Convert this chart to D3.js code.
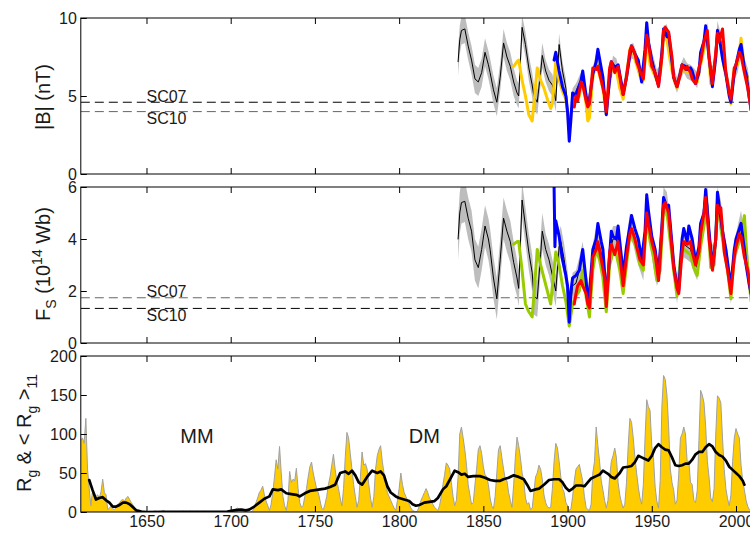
<!DOCTYPE html>
<html><head><meta charset="utf-8">
<script src="https://cdn.jsdelivr.net/npm/d3@7"></script>
<style>
body{margin:0;background:#fff;}
svg{display:block;font-family:"Liberation Sans",Arial,Helvetica,sans-serif;}
</style></head><body>
<svg id="chart" width="750" height="536"></svg>
<script>
// ---------------- DATA ----------------
const xTicks = [1650,1700,1750,1800,1850,1900,1950,2000];
const bTicks = [0,5,10];
const fTicks = [0,2,4,6];
const rTicks = [0,50,100,150,200];
const scB = {SC07:4.6, SC10:4.0};
const scF = {SC07:1.74, SC10:1.33};

// |B| reconstruction (black, with uncertainty): [year, value, halfwidth]
const bBlack = [
[1835,7.2,0.9],[1836,8.6,0.9],[1837,9.2,0.9],[1839,9.3,0.9],[1841,8.2,0.9],[1843,7.3,0.9],[1845,6.1,0.9],[1847,5.9,0.9],
[1849,6.5,0.9],[1851,7.8,0.9],[1853,7.0,0.9],[1854,6.5,0.9],[1856,5.4,0.9],[1858,4.6,0.9],[1860,6.2,0.9],[1862,8.4,0.9],
[1864,7.5,0.9],[1866,6.9,0.9],[1868,5.9,0.9],[1870,5.2,0.8],[1871,5.0,0.8],[1873,9.4,0.8],[1875,8.3,0.8],[1877,6.8,0.8],
[1879,5.7,0.8],[1880,5.0,0.8],[1882,4.6,0.8],[1884,6.5,0.8],[1885,7.6,0.8],[1887,6.6,0.7],[1889,6.0,0.7],[1891,5.7,0.7],
[1893,4.7,0.7],[1895,8.3,0.7],[1897,6.6,0.6],[1899,5.5,0.6],[1901,3.0,0.6],[1903,5.0,0.5],[1905,5.3,0.5],[1907,5.8,0.5],
[1909,6.2,0.5],[1911,4.8,0.5],[1913,4.4,0.5],[1915,6.3,0.5],[1917,7.3,0.5],[1919,6.8,0.5],[1921,6.0,0.5],[1923,4.2,0.5],
[1925,5.8,0.5],[1927,7.1,0.5],[1929,6.9,0.5],[1931,6.0,0.5],[1933,5.2,0.5],[1935,6.5,0.5],[1937,7.8,0.5],[1939,7.9,0.5],
[1941,7.3,0.5],[1943,6.5,0.5],[1945,6.2,0.5],[1947,9.3,0.5],[1949,7.8,0.5],[1951,7.0,0.5],[1953,6.2,0.5],[1955,6.5,0.5],
[1957,9.0,0.5],[1959,9.1,0.5],[1961,7.5,0.5],[1963,6.3,0.5],[1965,5.7,0.5],[1967,6.5,0.5],[1969,7.0,0.5],[1971,6.6,0.5],
[1973,6.5,0.5],[1975,6.3,0.5],[1977,6.0,0.5],[1979,7.5,0.5],[1981,8.5,0.5],[1983,9.2,0.5],[1985,6.4,0.5],[1987,6.5,0.5],
[1989,9.3,0.5],[1991,8.5,0.5],[1993,7.0,0.5],[1995,6.0,0.5],[1997,4.8,0.5],[1999,6.5,0.5],[2001,7.0,0.5],[2003,8.2,0.5],
[2005,6.9,0.5],[2007,6.3,0.5],[2009,4.3,0.5]
];
const bYellow = [
[1868,6.9],[1870,7.2],[1871,7.3],[1873,6.0],[1875,5.0],[1877,3.8],[1879,3.4],[1880,4.5],[1882,6.8],[1884,6.0],[1886,5.5],
[1888,4.8],[1890,4.2],[1891,4.5],[1893,7.2],[1895,6.0],[1897,5.3],[1899,4.8],[1901,3.0],[1903,4.5],[1905,4.7],[1907,5.0],
[1909,6.2],[1911,4.5],[1912,3.4],[1913,3.6],[1915,6.2],[1917,7.2],[1919,6.3],[1921,5.5],[1923,3.8],[1925,6.3],[1927,7.0],
[1929,6.6],[1931,5.5],[1933,4.8],[1935,6.3],[1937,8.0],[1939,7.8],[1941,7.0],[1943,6.3],[1945,6.0],[1947,8.6],[1949,7.0],
[1951,6.5],[1953,6.0],[1955,6.3],[1957,8.8],[1959,8.6],[1961,7.2],[1963,6.1],[1965,5.5],[1967,6.5],[1969,6.7],[1971,6.5],
[1973,6.6],[1975,6.2],[1977,5.9],[1979,7.0],[1981,8.0],[1983,8.8],[1985,5.8],[1987,6.5],[1989,8.8],[1991,8.3],[1993,6.8],
[1995,5.9],[1997,4.5],[1999,6.8],[2001,7.0],[2003,8.7],[2005,6.8],[2007,6.0],[2009,4.2]
];
const bBlue = [
[1892,7.3],[1893,7.8],[1895,6.6],[1897,5.6],[1899,5.0],[1900,4.0],[1901,2.1],[1902,3.5],[1903,5.2],[1905,5.0],[1906,5.4],
[1908,6.0],[1909,6.6],[1911,5.0],[1912,4.4],[1913,4.8],[1915,6.4],[1917,7.2],[1918,8.0],[1920,6.8],[1921,6.2],[1923,3.8],
[1924,5.0],[1926,7.2],[1928,6.8],[1930,7.0],[1932,5.8],[1933,5.1],[1935,6.2],[1937,7.6],[1938,8.2],[1940,7.7],[1942,7.3],
[1944,5.9],[1946,8.0],[1947,9.7],[1948,8.5],[1950,7.3],[1952,6.4],[1954,5.7],[1956,7.8],[1957,9.3],[1959,8.8],[1960,9.0],
[1962,7.2],[1963,6.2],[1965,5.6],[1967,6.5],[1968,7.0],[1970,6.9],[1971,6.7],[1973,6.8],[1974,6.6],[1976,5.8],[1978,6.5],
[1979,7.8],[1981,8.5],[1982,9.5],[1984,7.5],[1986,5.6],[1988,7.5],[1989,9.2],[1990,8.8],[1992,7.4],[1994,6.4],[1996,5.0],
[1997,4.6],[1999,6.5],[2000,7.0],[2002,8.0],[2003,8.3],[2005,6.8],[2006,6.4],[2008,4.8],[2009,4.1]
];
const bRed = [
[1904,4.3],[1905,5.0],[1906,4.7],[1908,5.9],[1909,5.7],[1911,4.7],[1912,4.3],[1913,4.5],[1915,6.8],[1917,6.7],[1918,6.9],
[1920,6.0],[1922,5.0],[1923,4.0],[1925,6.8],[1926,7.2],[1928,6.5],[1930,6.9],[1932,5.6],[1933,5.1],[1935,6.2],[1937,7.9],
[1938,8.2],[1940,7.7],[1941,7.2],[1943,6.6],[1945,6.1],[1947,8.9],[1948,8.4],[1950,6.9],[1952,6.5],[1954,5.6],[1956,7.5],
[1957,9.2],[1958,9.4],[1960,9.1],[1962,7.5],[1963,6.2],[1965,5.6],[1967,6.4],[1968,7.0],[1970,6.7],[1971,6.9],[1973,6.5],
[1974,6.1],[1976,5.8],[1978,6.8],[1979,7.2],[1981,8.5],[1983,9.2],[1984,7.5],[1986,5.8],[1988,7.8],[1989,9.0],[1990,8.5],
[1992,9.3],[1994,6.5],[1996,5.2],[1997,4.8],[1999,6.8],[2000,7.0],[2002,7.8],[2003,7.6],[2005,6.5],[2007,5.5],[2009,4.1],[2010,3.9]
];

// Open solar flux F_S: [year, value, halfwidth]
const fBlack = [
[1835,4.0,0.8],[1836,5.0,0.8],[1837,5.4,0.8],[1839,5.45,0.8],[1841,4.8,0.8],[1843,4.3,0.8],[1845,3.2,0.8],[1847,2.9,0.8],
[1849,3.6,0.8],[1851,4.5,0.8],[1853,4.0,0.8],[1854,3.6,0.8],[1856,2.5,0.8],[1858,1.7,0.8],[1860,3.2,0.8],[1862,4.8,0.8],
[1864,4.3,0.8],[1866,3.9,0.8],[1868,3.1,0.8],[1870,2.5,0.7],[1871,2.1,0.7],[1873,5.5,0.7],[1875,4.5,0.7],[1877,3.5,0.7],
[1879,2.7,0.7],[1880,1.8,0.7],[1882,1.7,0.7],[1884,3.4,0.7],[1885,4.3,0.7],[1887,3.6,0.6],[1889,3.2,0.6],[1891,2.6,0.6],
[1893,2.0,0.6],[1895,3.7,0.6],[1896,3.9,0.6],[1898,3.2,0.6],[1900,2.2,0.6],[1901,1.0,0.5],[1903,2.2,0.5],[1905,2.3,0.5],
[1907,2.8,0.5],[1909,3.4,0.5],[1911,2.2,0.5],[1913,1.6,0.5],[1915,3.3,0.5],[1917,4.0,0.5],[1919,3.7,0.5],[1921,3.2,0.5],
[1923,1.7,0.5],[1925,3.5,0.5],[1927,4.0,0.5],[1929,4.0,0.5],[1931,3.4,0.5],[1933,2.4,0.5],[1935,3.5,0.5],[1937,4.5,0.5],
[1939,4.3,0.5],[1941,3.7,0.5],[1943,3.3,0.5],[1945,2.9,0.5],[1947,5.2,0.5],[1949,4.3,0.5],[1951,3.4,0.5],[1953,2.7,0.5],
[1955,3.0,0.5],[1957,5.5,0.5],[1959,5.3,0.5],[1961,4.2,0.5],[1963,3.2,0.5],[1965,2.0,0.5],[1967,3.3,0.5],[1969,3.8,0.5],
[1971,3.7,0.5],[1973,3.6,0.5],[1975,3.2,0.5],[1977,2.9,0.5],[1979,4.0,0.5],[1981,5.0,0.5],[1983,5.5,0.5],[1985,3.4,0.5],
[1987,3.2,0.5],[1989,5.5,0.5],[1991,5.0,0.5],[1993,3.8,0.5],[1995,3.0,0.5],[1997,2.0,0.5],[1999,3.4,0.5],[2001,4.0,0.5],
[2003,4.6,0.5],[2005,3.7,0.5],[2007,3.0,0.5],[2009,1.8,0.5]
];
const fGreen = [
[1868,3.8],[1870,3.9],[1871,3.9],[1873,2.8],[1875,1.5],[1877,1.2],[1879,1.0],[1880,1.8],[1882,3.6],[1884,3.0],[1886,2.5],
[1888,2.0],[1890,1.5],[1891,2.2],[1893,3.5],[1895,3.0],[1897,2.2],[1899,1.6],[1901,0.65],[1903,1.5],[1905,1.8],[1907,2.0],
[1909,2.8],[1911,1.8],[1913,1.0],[1915,2.8],[1917,3.6],[1919,3.2],[1921,2.5],[1923,1.2],[1925,3.0],[1927,3.5],[1929,3.4],
[1931,2.8],[1933,1.9],[1935,3.0],[1937,4.2],[1939,4.0],[1941,3.6],[1943,3.0],[1945,2.8],[1947,4.8],[1949,3.9],[1951,3.3],
[1953,2.4],[1955,2.8],[1957,5.2],[1959,5.0],[1961,3.9],[1963,2.8],[1965,1.8],[1967,3.2],[1969,3.6],[1971,3.5],[1973,3.4],
[1975,2.9],[1977,2.6],[1979,3.7],[1981,4.5],[1983,5.2],[1985,2.9],[1987,3.0],[1989,5.4],[1991,4.4],[1993,3.6],[1995,2.8],
[1997,1.7],[1999,3.4],[2001,3.7],[2003,4.2],[2005,4.9],[2007,2.8],[2009,1.6]
];
const fBlue = [
[1892,6.0],[1892.5,3.7],[1893,4.7],[1895,4.1],[1897,3.2],[1899,2.6],[1900,2.2],[1901,0.8],[1902,2.0],[1903,2.5],[1905,2.6],
[1907,2.8],[1909,3.6],[1911,2.4],[1912,1.7],[1913,1.9],[1915,3.6],[1917,4.0],[1918,4.6],[1920,3.9],[1921,3.6],[1923,1.8],
[1924,2.5],[1926,4.3],[1927,4.1],[1929,4.0],[1930,4.5],[1932,3.3],[1933,2.6],[1935,3.7],[1937,4.5],[1938,4.9],[1940,4.4],
[1942,4.0],[1944,3.2],[1946,4.3],[1947,5.7],[1948,5.1],[1950,4.1],[1952,3.6],[1954,2.6],[1956,4.5],[1957,5.6],[1959,5.2],
[1960,5.3],[1962,3.8],[1963,3.0],[1965,2.2],[1966,2.0],[1968,4.0],[1969,4.4],[1971,3.9],[1972,4.5],[1974,4.0],[1976,3.1],
[1978,3.7],[1979,4.6],[1981,5.0],[1982,5.9],[1984,4.3],[1986,2.9],[1988,4.0],[1989,5.8],[1990,5.3],[1992,4.3],[1994,3.6],
[1996,2.6],[1997,2.2],[1999,3.6],[2000,4.0],[2002,4.4],[2003,4.6],[2005,3.6],[2006,3.0],[2008,2.2],[2009,1.9]
];
const fRed = [
[1904,1.5],[1905,1.9],[1906,2.2],[1908,2.4],[1909,2.2],[1911,1.9],[1912,1.5],[1913,1.35],[1915,3.3],[1917,3.6],[1918,3.9],
[1920,3.2],[1922,2.5],[1923,1.4],[1925,3.5],[1926,3.8],[1928,3.4],[1930,3.9],[1932,2.8],[1933,2.2],[1935,3.3],[1937,4.2],
[1938,4.4],[1940,4.0],[1941,3.7],[1943,3.2],[1945,3.0],[1947,5.0],[1948,4.6],[1950,3.9],[1952,3.4],[1954,2.4],[1956,4.3],
[1957,5.3],[1958,5.4],[1960,5.0],[1962,3.6],[1963,2.9],[1965,2.1],[1966,1.9],[1968,3.5],[1969,3.9],[1971,3.8],[1973,3.9],
[1974,3.5],[1976,3.0],[1978,3.5],[1979,4.2],[1981,5.0],[1982,5.6],[1984,4.0],[1986,2.8],[1988,4.0],[1989,5.3],[1990,5.0],
[1991,5.2],[1993,3.5],[1995,2.8],[1997,1.9],[1999,3.3],[2000,3.7],[2002,4.2],[2003,4.1],[2005,3.3],[2007,2.8],[2009,1.9],[2010,1.6]
];

// Group sunspot number Rg, annual, from rgStartYear
const rgStartYear = 1611;
const rgValues = [
 92, 95, 88,120, 55, 30,  8, 28, 25, 20,   // 1611-1620
 22, 18, 26, 42, 25, 22,  3,  5,  8,  4,   // 1621-1630
  3,  6, 10, 12, 15, 16, 14, 18, 20, 16,   // 1631-1640
 12,  9,  5,  2,  1,  0,  0,0.5,  0,  1,   // 1641-1650
  0,  1,0.5,  0,1.5,  0,  0,0.5,  1,  2,   // 1651-1660
  1,  0,  0,0.5,  0,  0,  0,  0,  0,  0,   // 1661-1670
0.5,  1,  0,  0,0.5,  1,0.5,  0,  0,  1,   // 1671-1680
0.5,  0,  0,  1,  0,  0,  0,  0,  0,  0,   // 1681-1690
  0,  0,  0,  0,  0,  0,  0,  0,0.5,  1,   // 1691-1700
  2,  3,  4,  5,  4,  3,  4,  2,  1,  0,   // 1701-1710
  0,  0,  2,  5, 12, 18, 25, 28, 33, 22,   // 1711-1720
 14,  8,  2, 10, 25, 45, 67, 55, 84, 50,   // 1721-1730
 20,  8,  2, 15, 52, 38, 42, 40, 56, 30,   // 1731-1740
 12,  6,  8, 20, 30, 45, 58, 64, 50, 40,   // 1741-1750
 30, 25, 15,  5,  3, 10, 20, 35, 45, 60,   // 1751-1760
 74, 55, 40, 30, 18,  8, 30, 70,102, 95,   // 1761-1770
 75, 55, 35, 20,  6, 15, 45, 77, 60, 62,   // 1771-1780
 55, 35, 18,  6, 20, 55, 72, 80, 85, 65,   // 1781-1790
 50, 40, 25, 20, 15, 10,  5,  2, 15, 30,   // 1791-1800
 50, 35, 25, 20, 15, 10,  5,  2,  1,  0,   // 1801-1810
  2,  8, 15, 20, 25, 30, 25, 18, 15, 10,   // 1811-1820
  6,  4,  2,  8, 20, 35, 48, 63, 60, 55,   // 1821-1830
 38, 20,  8, 15, 45,100,109, 95, 80, 60,   // 1831-1840
 35, 22, 10, 12, 35, 55, 80, 85, 75, 58,   // 1841-1850
 48, 45, 35, 18,  8,  4, 20, 50, 80, 85,   // 1851-1860
 70, 55, 42, 40, 25, 15,  6, 35, 70, 96,   // 1861-1870
 85, 70, 50, 40, 18, 10, 12,  3,  5, 25,   // 1871-1880
 45, 50, 60, 55, 42, 22, 12,  7,  5,  6,   // 1881-1890
 30, 65, 88, 82, 65, 45, 30, 25, 12,  8,   // 1891-1900
  2,  4, 20, 40, 55, 58, 61, 50, 40, 20,   // 1901-1910
  6,  3,  2, 10, 50, 65,109, 85, 65, 40,   // 1911-1920
 28, 15,  5, 15, 45, 65, 72, 82, 70, 38,   // 1921-1930
 22, 12,  5, 10, 38, 85,120,115, 95, 70,   // 1931-1940
 50, 32, 18, 10, 35, 95,144,135,130, 85,   // 1941-1950
 70, 32, 14,  5, 40,135,175,170,150,110,   // 1951-1960
 55, 38, 28, 10, 15, 48, 95,100,109,100,   // 1961-1970
 65, 65, 38, 35, 15, 12, 28, 92,156,150,   // 1971-1980
140,110, 65, 45, 18, 13, 30,100,149,146,   // 1981-1990
140, 95, 55, 30, 17,  8, 22, 65, 95,107,   // 1991-2000
100, 95, 60, 40, 28, 15,  7,  3,  2, 15    // 2001-2010
];
// 11-year running mean <Rg>_11 : [year, value]
const rgMean = [
[1616,41],[1618,28],[1620,16],[1622,18],[1624,19],[1626,15],[1628,12],[1630,7],[1632,7],[1634,9],[1636,12],[1638,12],
[1640,10],[1642,6],[1644,2],[1647,0.5],[1650,0],[1660,0.3],[1670,0.2],[1680,0.2],[1690,0.2],[1698,0.5],[1702,2],[1706,3],
[1709,2],[1711,3],[1714,7],[1717,12],[1720,17],[1723,20],[1725,29],[1728,28],[1730,29],[1733,24],[1736,23],[1739,22],
[1741,20],[1744,24],[1747,27],[1750,28],[1753,29],[1756,30],[1759,32],[1762,35],[1765,50],[1768,52],[1770,49],[1772,53],
[1774,47],[1776,38],[1778,35],[1781,45],[1784,53],[1787,50],[1789,52],[1791,47],[1793,33],[1795,25],[1798,20],[1800,18],
[1803,16],[1806,14],[1808,10],[1810,8],[1812,9],[1815,12],[1818,13],[1821,14],[1823,18],[1826,29],[1828,33],[1831,45],
[1833,53],[1835,51],[1837,48],[1839,49],[1841,45],[1844,46],[1848,46],[1851,44],[1854,41],[1857,40],[1860,40],[1862,42],
[1865,44],[1868,47],[1871,45],[1874,42],[1876,35],[1878,27],[1881,29],[1883,30],[1886,35],[1889,41],[1892,42],[1895,42],
[1897,38],[1899,31],[1901,27],[1903,30],[1905,34],[1908,34],[1910,33],[1912,38],[1914,43],[1917,46],[1919,48],[1921,53],
[1924,49],[1926,45],[1928,43],[1931,50],[1933,57],[1936,58],[1938,59],[1940,64],[1942,72],[1944,70],[1946,68],[1948,66],
[1950,72],[1952,82],[1954,87],[1956,83],[1958,80],[1960,79],[1962,70],[1964,60],[1966,59],[1968,60],[1970,62],[1972,62],
[1974,67],[1976,74],[1978,77],[1980,77],[1982,83],[1984,87],[1986,84],[1988,77],[1990,73],[1992,71],[1994,66],[1996,58],
[1998,54],[2000,50],[2002,46],[2004,40],[2005,35]
];

// ---------------- DRAW ----------------
const svg = d3.select("#chart");
const x = d3.scaleLinear().domain([1611, 2012]).range([80.8, 756.2]);
const xl = x.range()[0], xr = x.range()[1];
const FONT = 16;

const panels = [
  {top:18,  bottom:174, dom:[0,10],  ticks:bTicks},
  {top:187, bottom:343, dom:[0,6],   ticks:fTicks},
  {top:356, bottom:512, dom:[0,200], ticks:rTicks}
];
panels.forEach((p,i)=>{
  p.y = d3.scaleLinear().domain(p.dom).range([p.bottom, p.top]);
  svg.append("clipPath").attr("id","clip"+i)
    .append("rect").attr("x",xl).attr("y",p.top).attr("width",xr-xl).attr("height",p.bottom-p.top);
  p.g = svg.append("g").attr("clip-path",`url(#clip${i})`);
});

function drawBand(p, rows){
  const area = d3.area().x(d=>x(d[0])).y0(d=>p.y(d[1]-d[2])).y1(d=>p.y(d[1]+d[2]));
  p.g.append("path").datum(rows).attr("d",area).attr("fill","#bdbdbd").attr("stroke","none");
}
function drawLine(p, rows, color, w){
  const line = d3.line().x(d=>x(d[0])).y(d=>p.y(d[1]));
  p.g.append("path").datum(rows).attr("d",line).attr("fill","none")
    .attr("stroke",color).attr("stroke-width",w).attr("stroke-linejoin","round").attr("stroke-linecap","round");
}
function drawSC(p, vals, upperColor, lowerColor){
  p.g.append("line").attr("x1",xl).attr("x2",xr).attr("y1",p.y(vals.SC07)).attr("y2",p.y(vals.SC07))
    .attr("stroke",upperColor).attr("stroke-width",1).attr("stroke-dasharray","9,5");
  p.g.append("line").attr("x1",xl).attr("x2",xr).attr("y1",p.y(vals.SC10)).attr("y2",p.y(vals.SC10))
    .attr("stroke",lowerColor).attr("stroke-width",1).attr("stroke-dasharray","9,5");
  svg.append("text").attr("x",x(1650)).attr("y",p.y(vals.SC07)-0.5).attr("font-size",FONT).attr("fill","#1a1a1a").text("SC07");
  svg.append("text").attr("x",x(1650)).attr("y",p.y(vals.SC10)+12.5).attr("font-size",FONT).attr("fill","#1a1a1a").text("SC10");
}

// Panel 1
drawSC(panels[0], scB, "#000", "#666");
drawBand(panels[0], bBlack);
drawLine(panels[0], bBlack, "#000", 1);
drawLine(panels[0], bYellow, "#FFCC00", 3);
drawLine(panels[0], bBlue, "#0000FF", 3);
drawLine(panels[0], bRed, "#FF0000", 3);

// Panel 2
drawSC(panels[1], scF, "#666", "#000");
drawBand(panels[1], fBlack);
drawLine(panels[1], fBlack, "#000", 1);
drawLine(panels[1], fGreen, "#99CC00", 3);
drawLine(panels[1], fBlue, "#0000FF", 3);
drawLine(panels[1], fRed, "#FF0000", 3);

// Panel 3
const p3 = panels[2];
const rgRows = rgValues.map((v,i)=>[rgStartYear+i, v]);
p3.g.append("path").datum(rgRows)
  .attr("d", d3.area().x(d=>x(d[0])).y0(p3.y(0)).y1(d=>p3.y(d[1])))
  .attr("fill","#FFCC00");
drawLine(p3, rgRows, "#a0a0a0", 1);
drawLine(p3, rgMean, "#000", 2.7);
svg.append("text").attr("x",x(1680)).attr("y",443).attr("text-anchor","middle").attr("font-size",20).attr("fill","#1a1a1a").text("MM");
svg.append("text").attr("x",x(1815)).attr("y",443).attr("text-anchor","middle").attr("font-size",20).attr("fill","#1a1a1a").text("DM");

// Axes
panels.forEach((p,i)=>{
  const top = svg.append("g").attr("transform",`translate(0,${p.top})`)
    .call(d3.axisTop(x).tickValues(xTicks).tickSize(-6).tickFormat(""));
  const bot = svg.append("g").attr("transform",`translate(0,${p.bottom})`)
    .call(d3.axisBottom(x).tickValues(xTicks).tickSize(-6).tickPadding(4)
      .tickFormat(i===2 ? d3.format("d") : ""));
  const left = svg.append("g").attr("transform",`translate(${xl},0)`)
    .call(d3.axisLeft(p.y).tickValues(p.ticks).tickSize(-6).tickPadding(4).tickFormat(d3.format("d")));
  [top,bot,left].forEach(a=>{
    a.select(".domain").remove();
    a.selectAll(".tick line").attr("stroke","#000");
    a.selectAll("text").attr("font-size",FONT).attr("fill","#1a1a1a")
      .attr("font-family",'"Liberation Sans",Arial,sans-serif');
  });
  svg.append("rect").attr("x",xl).attr("y",p.top).attr("width",xr-xl).attr("height",p.bottom-p.top)
    .attr("fill","none").attr("stroke","#000").attr("stroke-width",1);
});

// Y labels
function ylabel(cx, cy, parts){
  const t = svg.append("text").attr("transform",`translate(${cx},${cy}) rotate(-90)`)
    .attr("text-anchor","middle").attr("font-size",20).attr("fill","#1a1a1a");
  parts.forEach(pt=>{
    t.append("tspan").attr("dy",pt.dy||0).attr("font-size",pt.fs||20).text(pt.t);
  });
}
ylabel(50, 97, [{t:"|B| (nT)"}]);
ylabel(50, 264, [{t:"F"},{t:"S",dy:6,fs:14},{t:" (10",dy:-6},{t:"14",dy:-8,fs:14},{t:" Wb)",dy:8}]);
ylabel(31, 433, [{t:"R"},{t:"g",dy:6,fs:14},{t:" & < R",dy:-6},{t:"g",dy:6,fs:14},{t:" >",dy:-6},{t:"11",dy:6,fs:14}]);
</script></body></html>
